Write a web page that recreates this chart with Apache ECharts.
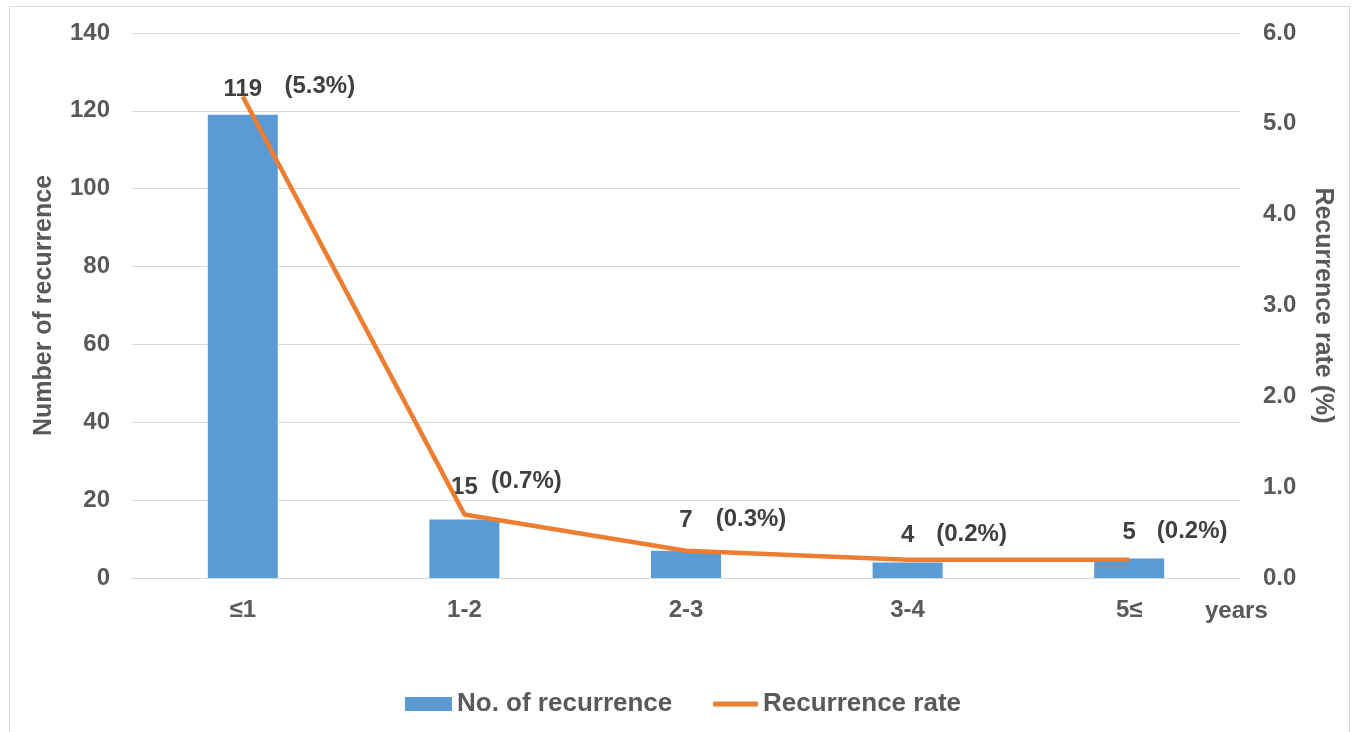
<!DOCTYPE html>
<html><head><meta charset="utf-8">
<script src="https://cdn.jsdelivr.net/npm/echarts@6/dist/echarts.min.js"></script>
<style>
html,body{margin:0;padding:0;background:#fff;}
#frame{position:absolute;left:9px;top:6px;width:1341px;height:730px;border:1px solid #d9d9d9;box-sizing:border-box;}
#chart{position:absolute;left:0;top:0;width:1354px;height:732px;}
</style></head>
<body>
<div id="frame"></div>
<div id="chart"></div>
<script>
const categories = ['≤1', '1-2', '2-3', '3-4', '5≤'];
const recurrenceCount = [119, 15, 7, 4, 5];
const recurrenceRate = [5.3, 0.7, 0.3, 0.2, 0.2];
const leftTicks = {min: 0, max: 140, interval: 20};
const rightTicks = {min: 0, max: 6, interval: 1};

const txt = '#595959';
const lab = '#404040';
const font = 'Liberation Sans, Arial, sans-serif';
const FS = 24;
const barLabelDist = [13, 20, 18, 15, 14];
const lineOffsets = [[77, -10], [62, -33], [65, -31], [64, -25], [63, -28]];

const chart = echarts.init(document.getElementById('chart'));
chart.setOption({
  animation: false,
  textStyle: {fontFamily: font},
  grid: {left: 132, right: 114, top: 33, bottom: 154},
  legend: [{
    top: 686, left: 400, itemWidth: 47, itemHeight: 14,
    textStyle: {color: txt, fontSize: 26, fontWeight: 'bold', fontFamily: font},
    data: [{name: 'No. of recurrence', icon: 'rect'}]
  }, {
    top: 686, left: 708, itemWidth: 45, itemHeight: 5,
    textStyle: {color: txt, fontSize: 26, fontWeight: 'bold', fontFamily: font},
    data: [{name: 'Recurrence rate', icon: 'roundRect', itemStyle: {color: '#ed7d31'}}]
  }],
  xAxis: {
    type: 'category', data: categories,
    name: 'years', nameLocation: 'end', nameGap: -35,
    nameTextStyle: {color: txt, fontSize: FS, fontWeight: 'bold', verticalAlign: 'top', padding: [21, 0, 0, 0], align: 'left'},
    axisLine: {lineStyle: {color: '#d9d9d9'}},
    axisTick: {show: false},
    axisLabel: {color: txt, fontSize: FS, fontWeight: 'bold', margin: 20}
  },
  yAxis: [{
    type: 'value', ...leftTicks,
    name: 'Number of recurrence', nameLocation: 'middle', nameGap: 75, nameRotate: 90,
    nameTextStyle: {color: txt, fontSize: 25, fontWeight: 'bold'},
    axisLabel: {color: txt, fontSize: FS, fontWeight: 'bold', margin: 22},
    splitLine: {lineStyle: {color: '#d9d9d9', width: 1}},
    axisLine: {show: false}, axisTick: {show: false}
  }, {
    type: 'value', ...rightTicks,
    name: 'Recurrence rate (%)', nameLocation: 'middle', nameGap: 70, nameRotate: -90,
    nameTextStyle: {color: txt, fontSize: 25, fontWeight: 'bold'},
    axisLabel: {color: txt, fontSize: FS, fontWeight: 'bold', margin: 23, formatter: v => v.toFixed(1)},
    splitLine: {show: false},
    axisLine: {show: false}, axisTick: {show: false}
  }],
  series: [{
    name: 'No. of recurrence', type: 'bar', yAxisIndex: 0, barWidth: 70,
    itemStyle: {color: '#5b9bd5'},
    data: recurrenceCount.map((v, i) => ({
      value: v,
      label: {show: true, position: 'top', distance: barLabelDist[i], color: lab, fontSize: FS, fontWeight: 'bold'}
    })),
    z: 2
  }, {
    name: 'Recurrence rate', type: 'line', yAxisIndex: 1,
    symbol: 'circle', symbolSize: 0.01, showSymbol: true,
    lineStyle: {color: '#ed7d31', width: 4.5},
    itemStyle: {color: '#ed7d31'},
    label: {show: true, position: 'inside', formatter: p => '(' + p.value.toFixed(1) + '%)',
            color: lab, fontSize: FS, fontWeight: 'bold'},
    labelLayout: p => ({dx: lineOffsets[p.dataIndex][0], dy: lineOffsets[p.dataIndex][1], hideOverlap: false}),
    data: recurrenceRate,
    z: 3
  }]
});
</script>
</body></html>
